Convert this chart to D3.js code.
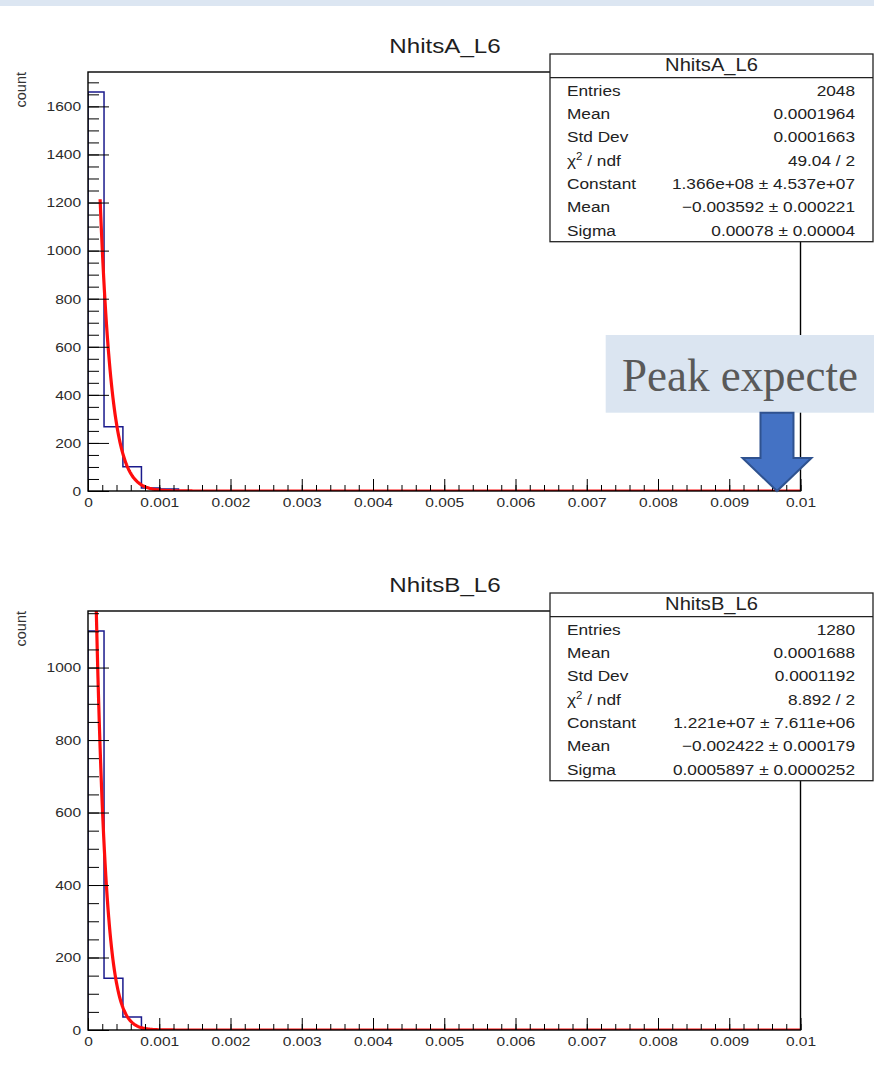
<!DOCTYPE html>
<html>
<head>
<meta charset="utf-8">
<script src="https://cdn.jsdelivr.net/npm/d3@7"></script>
<style>
  html, body { margin: 0; padding: 0; background: #fff; }
  svg { display: block; }
</style>
</head>
<body>
<script>
// ---- data ----
// NhitsA_L6 histogram: bin edges and contents
const binEdgesA = [0, 0.000225, 0.00049, 0.00075, 0.00101, 0.00127];
const countsA = [1660, 267, 101, 12, 8];
// NhitsB_L6 histogram
const binEdgesB = [0, 0.000225, 0.00049, 0.00075];
const countsB = [1101, 143, 36];

// Gaussian fit parameters [Constant, Mean, Sigma] and fit ranges
const fitParamsA = [1.366e+08, -0.003592, 0.00078];
const fitRangeA = [0.00017, 0.01];
const fitParamsB = [1.221e+07, -0.002422, 0.0005897];
const fitRangeB = [0.0001, 0.01];

// Stats box rows
const statNames = ["Entries", "Mean", "Std Dev", "χ2 / ndf", "Constant", "Mean", "Sigma"];
const statValuesA = ["2048", "0.0001964", "0.0001663", "49.04 / 2",
  "1.366e+08 ± 4.537e+07", "\u22120.003592 ± 0.000221", "0.00078 ± 0.00004"];
const statValuesB = ["1280", "0.0001688", "0.0001192", "8.892 / 2",
  "1.221e+07 ± 7.611e+06", "\u22120.002422 ± 0.000179", "0.0005897 ± 0.0000252"];

// Axis ticks
const xTickValues = [0, 0.001, 0.002, 0.003, 0.004, 0.005, 0.006, 0.007, 0.008, 0.009, 0.01];
const xTickLabels = ["0", "0.001", "0.002", "0.003", "0.004", "0.005", "0.006", "0.007", "0.008", "0.009", "0.01"];
const yTickValuesA = [0, 200, 400, 600, 800, 1000, 1200, 1400, 1600];
const yTickValuesB = [0, 200, 400, 600, 800, 1000];

// Annotation (the slide edge cuts the call-out text)
const peakExpectedX = 0.00967;
const peakText = "Peak expecte";

// ---- layout ----
const W = 874, H = 1068;
const SX = 1.15;                 // horizontal stretch of the ROOT-style text
const FONT = "'Liberation Sans', Arial, Helvetica, sans-serif";
const frame = { left: 88, right: 800.5, top: 72, bottom: 491 };
const panelOffsetB = 539;

const svg = d3.select("body").append("svg")
  .attr("width", W).attr("height", H)
  .attr("viewBox", `0 0 ${W} ${H}`);

svg.append("rect").attr("x", 0).attr("y", 0).attr("width", W).attr("height", 6)
  .attr("fill", "#dce6f2");

function stretchedText(g, x, y, str, size, anchor, fill) {
  return g.append("text")
    .attr("transform", `translate(${x},${y}) scale(${SX},1)`)
    .attr("text-anchor", anchor)
    .attr("font-family", FONT)
    .attr("font-size", size)
    .attr("fill", fill || "#222")
    .text(str);
}

function drawPanel(id, dy, title, edges, counts, yTicks, fitParams, fitRange, statValues) {
  const g = svg.append("g").attr("transform", `translate(0,${dy})`);
  const ymax = 1.05 * d3.max(counts);
  const x = d3.scaleLinear().domain([0, 0.01]).range([frame.left, frame.right]);
  const y = d3.scaleLinear().domain([0, ymax]).range([frame.bottom, frame.top]);

  // title
  stretchedText(g, 445, 52.5, title, 21, "middle", "#1e1e1e");

  // y axis title
  g.append("text")
    .attr("transform", `translate(26,${frame.top}) rotate(-90)`)
    .attr("text-anchor", "end")
    .attr("font-family", FONT).attr("font-size", 14.5).attr("fill", "#333")
    .text("count");

  // plot clip
  const clipId = "clip" + id;
  g.append("clipPath").attr("id", clipId).append("rect")
    .attr("x", frame.left).attr("y", frame.top)
    .attr("width", frame.right - frame.left).attr("height", frame.bottom - frame.top);
  const plot = g.append("g").attr("clip-path", `url(#${clipId})`);

  // histogram outline
  const steps = [[edges[0], 0]];
  counts.forEach((c, i) => { steps.push([edges[i], c]); steps.push([edges[i + 1], c]); });
  steps.push([edges[edges.length - 1], 0]);
  steps.push([0.01, 0]);
  plot.append("path")
    .attr("d", d3.line().x(d => x(d[0])).y(d => y(d[1]))(steps))
    .attr("fill", "none").attr("stroke", "#1a1a8c").attr("stroke-width", 1.5);

  // gaussian fit curve from the fitted parameters
  const [C, mu, sig] = fitParams;
  const gaus = v => C * Math.exp(-0.5 * ((v - mu) / sig) ** 2);
  const fx = d3.range(fitRange[0], fitRange[1], 0.00001).concat([fitRange[1]]);
  plot.append("path")
    .attr("d", d3.line().x(v => x(v)).y(v => y(gaus(v)))(fx))
    .attr("fill", "none").attr("stroke", "#ff0d0d").attr("stroke-width", 3.2)
    .attr("stroke-linejoin", "round");

  // x axis: minor and major ticks pointing inward
  const xMinor = d3.range(0, 51).map(i => i * 0.0002);
  g.append("g").attr("transform", `translate(0,${frame.bottom})`)
    .call(d3.axisBottom(x).tickValues(xMinor).tickSizeInner(-6).tickSizeOuter(0).tickFormat(""))
    .call(s => s.select(".domain").remove())
    .call(s => s.selectAll("line").attr("stroke", "#000"));
  const xAx = g.append("g").attr("transform", `translate(0,${frame.bottom})`)
    .call(d3.axisBottom(x).tickValues(xTickValues).tickSizeInner(-12).tickSizeOuter(0)
      .tickPadding(6).tickFormat((d, i) => xTickLabels[i]))
    .call(s => s.select(".domain").remove());
  xAx.selectAll("line").attr("stroke", "#000");
  xAx.selectAll("text")
    .attr("font-family", FONT).attr("font-size", 13.5).attr("fill", "#2a2a2a")
    .attr("transform", `scale(${SX},1)`);

  // y axis
  const yMinor = d3.range(0, Math.floor(ymax / 50) + 1).map(i => i * 50);
  g.append("g").attr("transform", `translate(${frame.left},0)`)
    .call(d3.axisLeft(y).tickValues(yMinor).tickSizeInner(-11).tickSizeOuter(0).tickFormat(""))
    .call(s => s.select(".domain").remove())
    .call(s => s.selectAll("line").attr("stroke", "#000"));
  const yAx = g.append("g").attr("transform", `translate(${frame.left},0)`)
    .call(d3.axisLeft(y).tickValues(yTicks).tickSizeInner(-21).tickSizeOuter(0)
      .tickPadding(7).tickFormat(d3.format("d")))
    .call(s => s.select(".domain").remove());
  yAx.selectAll("line").attr("stroke", "#000");
  yAx.selectAll("text")
    .attr("font-family", FONT).attr("font-size", 13.5).attr("fill", "#2a2a2a")
    .attr("x", -7 / SX)
    .attr("transform", `scale(${SX},1)`);

  // frame
  g.append("rect")
    .attr("x", frame.left).attr("y", frame.top)
    .attr("width", frame.right - frame.left).attr("height", frame.bottom - frame.top)
    .attr("fill", "none").attr("stroke", "#000").attr("stroke-width", 1.4);

  // stats box
  const bx0 = 550, bx1 = 873, by0 = 54, bhead = 77.7, by1 = 241.7;
  g.append("rect").attr("x", bx0).attr("y", by0)
    .attr("width", bx1 - bx0).attr("height", by1 - by0)
    .attr("fill", "#fff").attr("stroke", "#222").attr("stroke-width", 1.3);
  g.append("line").attr("x1", bx0).attr("x2", bx1).attr("y1", bhead).attr("y2", bhead)
    .attr("stroke", "#222").attr("stroke-width", 1.3);
  stretchedText(g, (bx0 + bx1) / 2, 71, title, 17.5, "middle", "#222");
  statNames.forEach((name, i) => {
    const yy = 95.5 + i * 23.35;
    const t = stretchedText(g, 567, yy, "", 15, "start", "#222");
    if (name.startsWith("χ2")) {
      t.append("tspan").text("χ");
      t.append("tspan").attr("font-size", 10).attr("dy", -6).text("2");
      t.append("tspan").attr("dy", 6).text(" / ndf");
    } else {
      t.text(name);
    }
    stretchedText(g, 855, yy, statValues[i], 15, "end", "#222");
  });

  return { g, x, y };
}

const panelA = drawPanel("A", 0, "NhitsA_L6", binEdgesA, countsA, yTickValuesA,
  fitParamsA, fitRangeA, statValuesA);
drawPanel("B", panelOffsetB, "NhitsB_L6", binEdgesB, countsB, yTickValuesB,
  fitParamsB, fitRangeB, statValuesB);

// "Peak expected" call-out with a block arrow pointing at the axis
const ann = svg.append("g");
ann.append("rect").attr("x", 605.7).attr("y", 335).attr("width", W - 605.7).attr("height", 77.7)
  .attr("fill", "#dbe5f1");
ann.append("text").attr("x", 622).attr("y", 391)
  .attr("font-family", "'Liberation Serif', 'Times New Roman', serif")
  .attr("font-size", 47).attr("fill", "#595959")
  .attr("textLength", 236).attr("lengthAdjust", "spacingAndGlyphs")
  .text(peakText);

const tipX = panelA.x(peakExpectedX), tipY = panelA.y(0);
const shaftTop = 412.7, headBase = 458, shaftHalf = 16.5, headHalf = 34.5;
ann.append("path")
  .attr("d", [
    [tipX - shaftHalf, shaftTop], [tipX + shaftHalf, shaftTop],
    [tipX + shaftHalf, headBase], [tipX + headHalf, headBase],
    [tipX, tipY], [tipX - headHalf, headBase],
    [tipX - shaftHalf, headBase]
  ].map((p, i) => (i ? "L" : "M") + p[0] + "," + p[1]).join("") + "Z")
  .attr("fill", "#4472c4").attr("stroke", "#2f528f").attr("stroke-width", 2)
  .attr("stroke-linejoin", "miter");
</script>
</body>
</html>
